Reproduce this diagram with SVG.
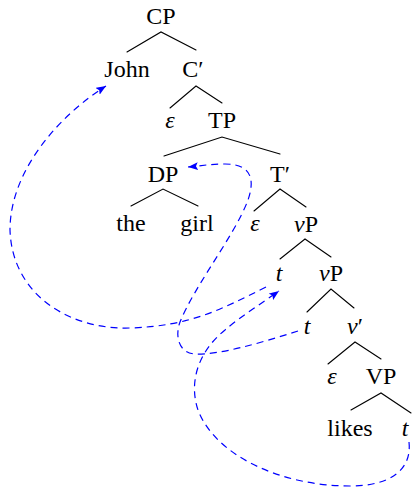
<svg xmlns="http://www.w3.org/2000/svg" width="412" height="488" viewBox="0 0 412 488">
<style>
  text { font-family: "Liberation Serif", "DejaVu Serif", serif; font-size: 24px; fill: #000; text-anchor: middle; }
  .it { font-style: italic; }
  .edge { stroke: #000; stroke-width: 1.1; fill: none; stroke-linecap: round; }
  .move { stroke: #0000ff; stroke-width: 1.2; fill: none; stroke-dasharray: 7 5; }
</style>
<defs>
  <marker id="arrow" viewBox="0 0 10 8" refX="10" refY="4" markerWidth="10" markerHeight="8" orient="auto" markerUnits="userSpaceOnUse">
    <path d="M0,0 L10,4 L0,8 L2,4 z" fill="#0000ff"/>
  </marker>
</defs>
<rect width="412" height="488" fill="#fff"/>

<g id="connectors">
  <g id="tree-edges">
    <path class="edge" d="M127,52 L161,32 L196,50"/>
    <path class="edge" d="M170,108 L196,86 L222,103"/>
    <path class="edge" d="M164,156 L222,137 L280,154"/>
    <path class="edge" d="M131,206 L163,189 L198,206"/>
    <path class="edge" d="M254,211 L280,189 L306,207"/>
    <path class="edge" d="M280,259 L305,239 L331,257"/>
    <path class="edge" d="M307,312 L331,289 L354,308"/>
    <path class="edge" d="M328,364 L355,342 L381,359"/>
    <path class="edge" d="M351,410 L381,393 L411,413"/>
  </g>
  <g id="movement">
    <path class="move" marker-end="url(#arrow)" d="M266,287 C220,310 190,326 130,328 C70,330 12,295 10,230 C10,170 60,115 106,86"/>
    <path class="move" marker-end="url(#arrow)" d="M409,442 C412,470 390,486 350,486 C280,486 215,455 198,410 C188,380 200,350 225,330 C240,317 262,303 279,291"/>
    <path class="move" marker-end="url(#arrow)" d="M298,331 C260,343 220,355 195,354 C178,353 175,335 180,322 C195,285 235,235 248,200 C255,180 252,164 225,164 C210,164 200,166 188,167"/>
  </g>
</g>

<g id="CP"><text x="161" y="24">CP</text></g>
<g id="John"><text x="127" y="77">John</text></g>
<g id="Cbar"><text x="193" y="77">C′</text></g>
<g id="C-eps"><text class="it" x="170" y="128">ε</text></g>
<g id="TP"><text x="222" y="128">TP</text></g>
<g id="DP"><text x="163" y="182">DP</text></g>
<g id="Tbar"><text x="280" y="182">T′</text></g>
<g id="the"><text x="131" y="231">the</text></g>
<g id="girl"><text x="197" y="231">girl</text></g>
<g id="T-eps"><text class="it" x="255" y="231">ε</text></g>
<g id="vP1"><text x="306" y="232"><tspan class="it">ν</tspan>P</text></g>
<g id="t-spec1"><text class="it" x="279" y="281">t</text></g>
<g id="vP2"><text x="331" y="281"><tspan class="it">ν</tspan>P</text></g>
<g id="t-spec2"><text class="it" x="307" y="334">t</text></g>
<g id="vbar"><text x="355" y="334"><tspan class="it">ν</tspan>′</text></g>
<g id="v-eps"><text class="it" x="332" y="384">ε</text></g>
<g id="VP"><text x="381" y="384">VP</text></g>
<g id="likes"><text x="350" y="436">likes</text></g>
<g id="t-obj"><text class="it" x="405" y="436">t</text></g>
</svg>
